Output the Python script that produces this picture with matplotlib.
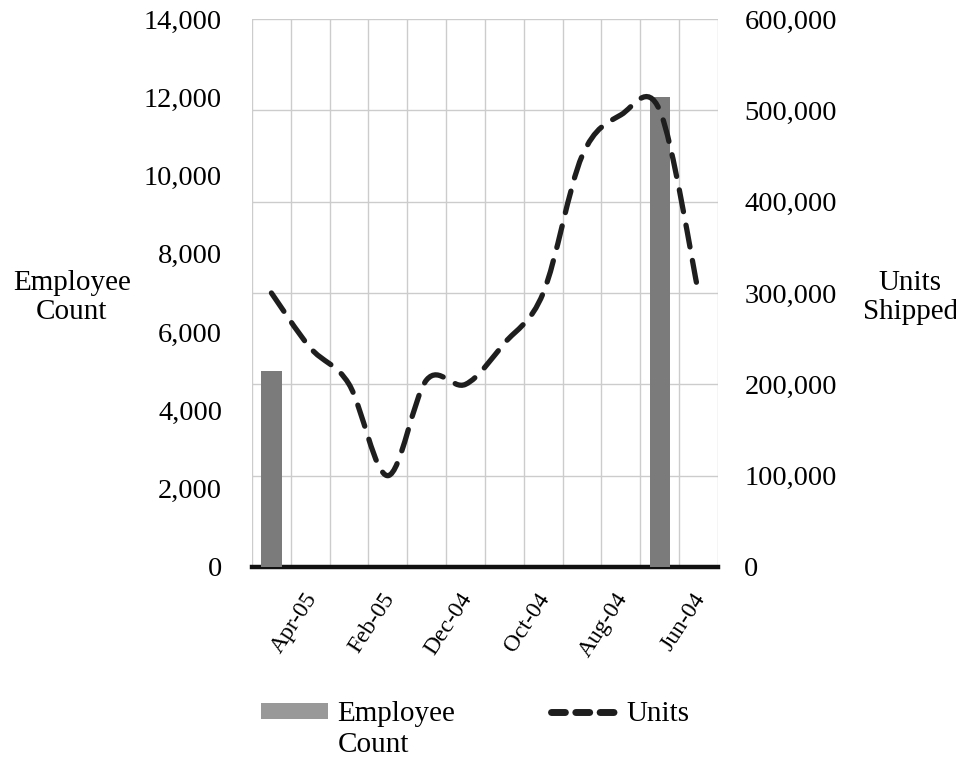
import numpy as np
import matplotlib
matplotlib.use("Agg")
import matplotlib.pyplot as plt
from matplotlib.path import Path
from matplotlib.patches import PathPatch, Patch
from matplotlib.lines import Line2D
from matplotlib.ticker import FuncFormatter, MultipleLocator
import matplotlib.transforms as mtransforms

plt.rcParams['font.family'] = ['Liberation Serif', 'DejaVu Serif']

# Months, newest first
months = ["Apr-05", "Mar-05", "Feb-05", "Jan-05", "Dec-04", "Nov-04",
          "Oct-04", "Sep-04", "Aug-04", "Jul-04", "Jun-04", "May-04"]
employee_count = [5000, np.nan, np.nan, np.nan, np.nan, np.nan,
                  np.nan, np.nan, np.nan, np.nan, 12000, np.nan]
units_shipped = [300000, 240000, 200000, 100000, 205000, 200000,
                 245000, 300000, 450000, 495000, 500000, 300000]
label_every = 2

fig = plt.figure(figsize=(9.56, 7.59), dpi=100)
ax = fig.add_axes([0.2636, 0.2530, 0.4874, 0.7220])
axb = ax.twinx()   # employee bars, left scale
axl = ax.twinx()   # units line, drawn on top

x = np.arange(len(months))
thousands = FuncFormatter(lambda v, p: f"{int(v):,}")

# Base axes: units scale, carries the grid and the right-hand labels
ax.set_xlim(-0.5, len(months) - 0.5)
ax.set_ylim(0, 600000)
ax.yaxis.set_major_locator(MultipleLocator(100000))
ax.yaxis.set_major_formatter(thousands)
ax.yaxis.tick_right()
ax.tick_params(axis='y', which='both', length=0, pad=19, labelsize=20.5,
               left=False, labelleft=False, right=True, labelright=True)
ax.set_xticks(np.arange(-0.5, len(months)), minor=True)
ax.grid(True, which='minor', axis='x', color='#cccccc', lw=1.0)
ax.grid(True, which='major', axis='y', color='#cccccc', lw=1.0)
ax.set_xticks(x[::label_every])
ax.set_xticklabels(months[::label_every])
ax.tick_params(axis='x', which='both', length=0, pad=16, labelsize=17)
offset = mtransforms.ScaledTranslation(0.50, 0, fig.dpi_scale_trans)
for lab in ax.get_xticklabels():
    lab.set_rotation(57)
    lab.set_ha('right')
    lab.set_va('top')
    lab.set_transform(lab.get_transform() + offset)
for side in ['top', 'left', 'right']:
    ax.spines[side].set_visible(False)
ax.spines['bottom'].set_linewidth(3.2)
ax.spines['bottom'].set_color('#111111')
ax.spines['bottom'].set_zorder(10)

# Employee bars on the left scale
axb.set_ylim(0, 14000)
axb.yaxis.set_major_locator(MultipleLocator(2000))
axb.yaxis.set_major_formatter(thousands)
axb.tick_params(axis='y', length=0, pad=21.5, labelsize=20.5,
                left=True, labelleft=True, right=False, labelright=False)
axb.bar(x, employee_count, width=0.52, color='#7b7b7b', zorder=2)
for s in axb.spines.values():
    s.set_visible(False)

# Units line (smoothed) on the units scale
axl.set_ylim(ax.get_ylim())
axl.set_yticks([])
axl.tick_params(left=False, right=False, labelleft=False, labelright=False)
for s in axl.spines.values():
    s.set_visible(False)

pts = np.column_stack([x, units_shipped]).astype(float)
verts = [pts[0]]
codes = [Path.MOVETO]
n = len(pts)
for i in range(n - 1):
    p0 = pts[i - 1] if i > 0 else pts[i]
    p1 = pts[i]
    p2 = pts[i + 1]
    p3 = pts[i + 2] if i + 2 < n else pts[i + 1]
    c1 = p1 + (p2 - p0) / 6.0
    c2 = p2 - (p3 - p1) / 6.0
    verts += [c1, c2, p2]
    codes += [Path.CURVE4] * 3
curve = PathPatch(Path(verts, codes), facecolor='none', edgecolor='#1e1e1e',
                  lw=3.8, linestyle=(0, (4.2, 2.6)), capstyle='round',
                  transform=axl.transData, zorder=3)
axl.add_patch(curve)

# Axis titles
fig.text(0.075, 0.608, "Employee\nCount", ha='center', va='center',
         fontsize=21, linespacing=1.15)
fig.text(0.952, 0.608, "Units\nShipped", ha='center', va='center',
         fontsize=21, linespacing=1.15)

# Legend
handles = [Patch(facecolor='#999999', edgecolor='none'),
           Line2D([0], [0], color='#1e1e1e', lw=5,
                  linestyle=(0, (2.0, 1.5)), solid_capstyle='round',
                  dash_capstyle='round')]
leg = fig.legend(handles, ["Employee", "Units"], ncol=2, frameon=False,
                 loc='center left', bbox_to_anchor=(0.273, 0.059), fontsize=21,
                 handlelength=2.3, handleheight=0.5, handletextpad=0.3,
                 columnspacing=3.3, borderaxespad=0, borderpad=0)
fig.text(0.3536, 0.0185, "Count", ha='left', va='center', fontsize=21)

fig.savefig("out.png", dpi=100)
